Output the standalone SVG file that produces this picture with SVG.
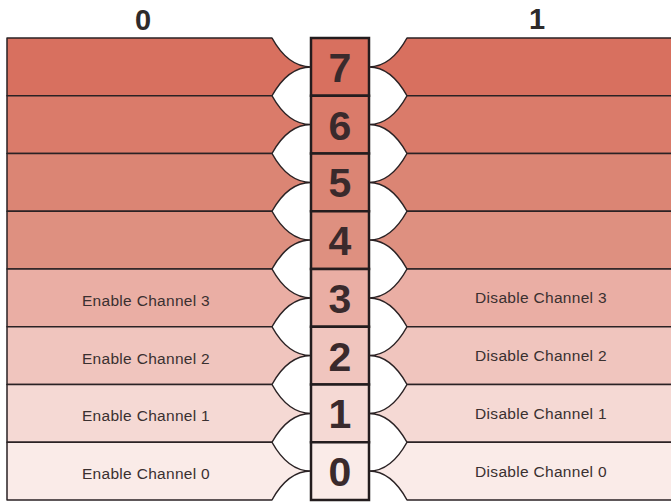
<svg xmlns="http://www.w3.org/2000/svg" width="671" height="502" viewBox="0 0 671 502">
<style>
.band{stroke:#2a2224;stroke-width:1.5;stroke-linejoin:round}
.cell{stroke:#231c1e;stroke-width:2.5}
.dig{font-family:"Liberation Sans",Arial,sans-serif;font-weight:bold;font-size:41px;fill:#3a2a2c;text-anchor:middle}
.lbl{font-family:"Liberation Sans",Arial,sans-serif;font-size:15.5px;fill:#3a3030;text-anchor:middle;letter-spacing:0.3px}
.hdr{font-family:"Liberation Sans",Arial,sans-serif;font-weight:bold;font-size:29px;fill:#2e2b2b;text-anchor:middle}
</style>
<rect width="671" height="502" fill="#ffffff"/>
<g id="header">
<text class="hdr" x="143" y="30">0</text>
<text class="hdr" x="537" y="29">1</text>
</g>
<g id="bit7" fill="#d8705f">
<path class="band" d="M7,38 H272 Q288,66.9 311,66.9 Q288,66.9 272,95.75 H7 Z"/>
<path class="band" d="M671,38 H407 Q391,66.9 369,66.9 Q391,66.9 407,95.75 H671"/>
<rect class="cell" x="311" y="38" width="58" height="57.75"/>
<text class="dig" x="340" y="82">7</text>
</g>
<g id="bit6" fill="#da7b6a">
<path class="band" d="M7,95.75 H272 Q288,124.6 311,124.6 Q288,124.6 272,153.5 H7 Z"/>
<path class="band" d="M671,95.75 H407 Q391,124.6 369,124.6 Q391,124.6 407,153.5 H671"/>
<rect class="cell" x="311" y="95.75" width="58" height="57.75"/>
<text class="dig" x="340" y="139.6">6</text>
</g>
<g id="bit5" fill="#db8574">
<path class="band" d="M7,153.5 H272 Q288,182.4 311,182.4 Q288,182.4 272,211.25 H7 Z"/>
<path class="band" d="M671,153.5 H407 Q391,182.4 369,182.4 Q391,182.4 407,211.25 H671"/>
<rect class="cell" x="311" y="153.5" width="58" height="57.75"/>
<text class="dig" x="340" y="197.4">5</text>
</g>
<g id="bit4" fill="#de9080">
<path class="band" d="M7,211.25 H272 Q288,240.1 311,240.1 Q288,240.1 272,269 H7 Z"/>
<path class="band" d="M671,211.25 H407 Q391,240.1 369,240.1 Q391,240.1 407,269 H671"/>
<rect class="cell" x="311" y="211.25" width="58" height="57.75"/>
<text class="dig" x="340" y="255.1">4</text>
</g>
<g id="bit3" fill="#eaaea4">
<path class="band" d="M7,269 H272 Q288,297.9 311,297.9 Q288,297.9 272,326.75 H7 Z"/>
<path class="band" d="M671,269 H407 Q391,297.9 369,297.9 Q391,297.9 407,326.75 H671"/>
<rect class="cell" x="311" y="269" width="58" height="57.75"/>
<text class="dig" x="340" y="312.9">3</text>
<text class="lbl" x="146" y="305.9">Enable Channel 3</text>
<text class="lbl" x="541" y="303.4">Disable Channel 3</text>
</g>
<g id="bit2" fill="#f0c5be">
<path class="band" d="M7,326.75 H272 Q288,355.6 311,355.6 Q288,355.6 272,384.5 H7 Z"/>
<path class="band" d="M671,326.75 H407 Q391,355.6 369,355.6 Q391,355.6 407,384.5 H671"/>
<rect class="cell" x="311" y="326.75" width="58" height="57.75"/>
<text class="dig" x="340" y="370.6">2</text>
<text class="lbl" x="146" y="363.6">Enable Channel 2</text>
<text class="lbl" x="541" y="361.1">Disable Channel 2</text>
</g>
<g id="bit1" fill="#f5d9d4">
<path class="band" d="M7,384.5 H272 Q288,413.4 311,413.4 Q288,413.4 272,442.25 H7 Z"/>
<path class="band" d="M671,384.5 H407 Q391,413.4 369,413.4 Q391,413.4 407,442.25 H671"/>
<rect class="cell" x="311" y="384.5" width="58" height="57.75"/>
<text class="dig" x="340" y="428.4">1</text>
<text class="lbl" x="146" y="421.4">Enable Channel 1</text>
<text class="lbl" x="541" y="418.9">Disable Channel 1</text>
</g>
<g id="bit0" fill="#faebe8">
<path class="band" d="M7,442.25 H272 Q288,471.1 311,471.1 Q288,471.1 272,500 H7 Z"/>
<path class="band" d="M671,442.25 H407 Q391,471.1 369,471.1 Q391,471.1 407,500 H671"/>
<rect class="cell" x="311" y="442.25" width="58" height="57.75"/>
<text class="dig" x="340" y="486.1">0</text>
<text class="lbl" x="146" y="479.1">Enable Channel 0</text>
<text class="lbl" x="541" y="476.6">Disable Channel 0</text>
</g>
</svg>
